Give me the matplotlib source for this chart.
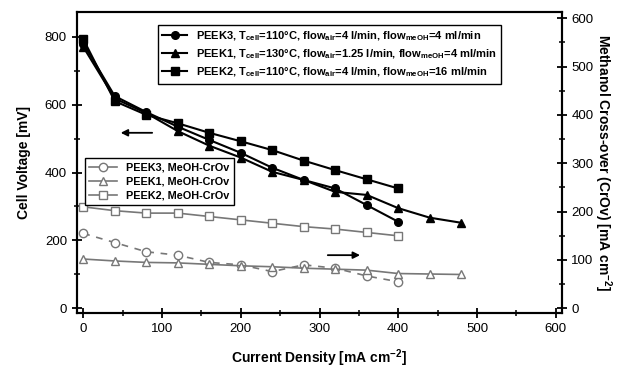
import matplotlib.pyplot as plt
from matplotlib.lines import Line2D
from matplotlib.ticker import MultipleLocator

plt.rcParams['font.family'] = ['Liberation Sans', 'DejaVu Sans']

# cell voltage [mV] vs current density [mA cm-2]
peek3X = [0, 40, 80, 120, 160, 200, 240, 280, 320, 360, 400]
peek3V = [780, 625, 578, 535, 496, 458, 414, 378, 353, 304, 255]
peek1X = [0, 40, 80, 120, 160, 200, 240, 280, 320, 360, 400, 440, 480]
peek1V = [770, 618, 575, 522, 479, 444, 402, 378, 343, 334, 295, 267, 252]
peek2X = [0, 40, 80, 120, 160, 200, 240, 280, 320, 360, 400]
peek2V = [793, 610, 570, 545, 517, 492, 466, 435, 407, 380, 353]

# methanol cross-over [mA cm-2]
crov3 = [155, 136, 117, 110, 95, 90, 76, 90, 83, 67, 55]
crov1 = [102, 98, 95, 94, 91, 88, 86, 83, 81, 79, 72, 71, 70]
crov2 = [210, 202, 197, 197, 190, 183, 176, 169, 164, 157, 150]

gray = "#777777"

fig = plt.figure(figsize=(6.29, 3.71), dpi=100)
ax = fig.add_axes([0.1219, 0.1555, 0.7711, 0.8113])
ax2 = ax.twinx()

h3, = ax.plot(peek3X, peek3V, color="black", lw=1.5, marker="o", ms=5.5,
              label=r"PEEK3, T$_\mathregular{cell}$=110°C, flow$_\mathregular{air}$=4 l/min, flow$_\mathregular{meOH}$=4 ml/min")
h1, = ax.plot(peek1X, peek1V, color="black", lw=1.5, marker="^", ms=5.5,
              label=r"PEEK1, T$_\mathregular{cell}$=130°C, flow$_\mathregular{air}$=1.25 l/min, flow$_\mathregular{meOH}$=4 ml/min")
h2, = ax.plot(peek2X, peek2V, color="black", lw=1.5, marker="s", ms=5.5,
              label=r"PEEK2, T$_\mathregular{cell}$=110°C, flow$_\mathregular{air}$=4 l/min, flow$_\mathregular{meOH}$=16 ml/min")

ax2.plot(peek3X, crov3, color=gray, lw=1.2, ls=(0, (4, 4)), marker="o", ms=6,
         mfc="white", mec=gray)
g1, = ax2.plot(peek1X, crov1, color=gray, lw=1.2, marker="^", ms=6,
               mfc="white", mec=gray, label="PEEK1, MeOH-CrOv")
g2, = ax2.plot(peek2X, crov2, color=gray, lw=1.2, marker="s", ms=6,
               mfc="white", mec=gray, label="PEEK2, MeOH-CrOv")
# legend key for PEEK3 is drawn solid in the original
g3 = Line2D([], [], color=gray, lw=1.2, marker="o", ms=6, mfc="white", mec=gray,
            label="PEEK3, MeOH-CrOv")

ax.set_xlim(-8.4, 607.6)
ax.set_ylim(-14.7, 871.9)
ax2.set_ylim(-10.3, 612.4)

ax.xaxis.set_major_locator(MultipleLocator(100))
ax.xaxis.set_minor_locator(MultipleLocator(50))
ax.yaxis.set_major_locator(MultipleLocator(200))
ax.yaxis.set_minor_locator(MultipleLocator(100))
ax2.yaxis.set_major_locator(MultipleLocator(100))
ax2.yaxis.set_minor_locator(MultipleLocator(50))

for a in (ax, ax2):
    a.tick_params(which="major", direction="inout", length=7, width=1.3, labelsize=9.5)
    a.tick_params(which="minor", direction="inout", length=4, width=1.1)
    for s in a.spines.values():
        s.set_linewidth(1.5)
ax.tick_params(top=False, which="both")

ax.set_xlabel(r"Current Density [mA cm$^\mathregular{-2}$]", fontsize=10, fontweight="bold",
              labelpad=9)
ax.set_ylabel("Cell Voltage [mV]", fontsize=10, fontweight="bold", labelpad=10)
ax2.set_ylabel(r"Methanol Cross-over (CrOv) [mA cm$^\mathregular{-2}$]", fontsize=10,
               fontweight="bold", rotation=270, labelpad=14)

ax.annotate("", xy=(44, 517), xytext=(91, 517),
            arrowprops=dict(arrowstyle="-|>", color="black", lw=1.3, mutation_scale=10))
ax2.annotate("", xy=(355, 110), xytext=(307, 110),
             arrowprops=dict(arrowstyle="-|>", color="black", lw=1.3, mutation_scale=10))

leg1 = ax.legend(handles=[h3, h1, h2], loc="upper left", bbox_to_anchor=(0.1676, 0.958),
                 borderaxespad=0, fancybox=False, edgecolor="black", framealpha=1,
                 prop={"weight": "bold", "size": 8.0}, handlelength=2.2, labelspacing=0.4)
leg1.get_frame().set_linewidth(1.0)

leg2 = ax2.legend(handles=[g3, g1, g2], loc="upper left", bbox_to_anchor=(0.017, 0.516),
                  borderaxespad=0, fancybox=False, edgecolor="black", framealpha=1,
                  prop={"weight": "bold", "size": 7.8}, handlelength=2.6, labelspacing=0.4)
leg2.get_frame().set_linewidth(1.0)

fig.savefig("out.png", dpi=100)
